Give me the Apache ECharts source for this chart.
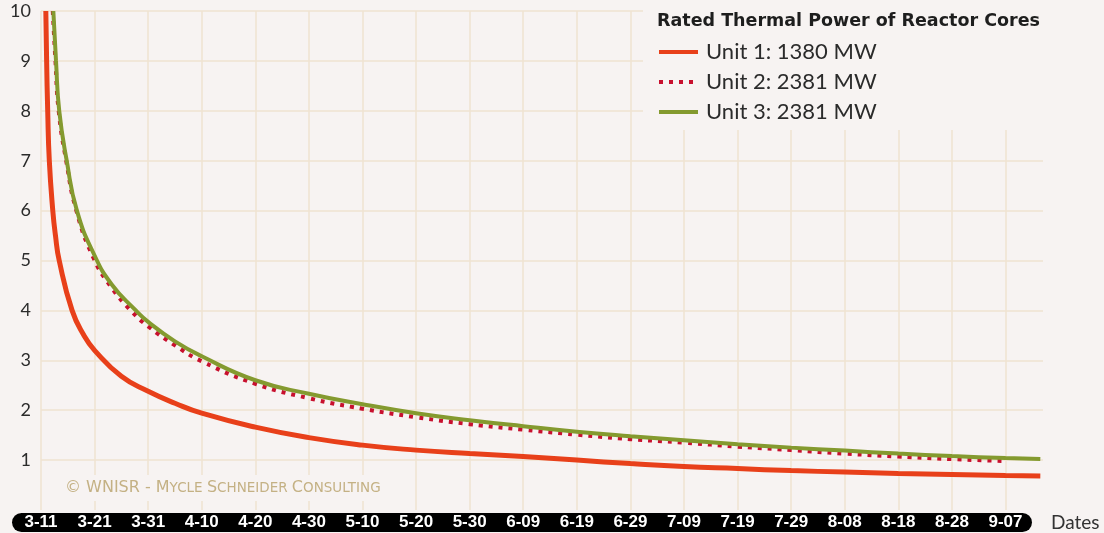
<!DOCTYPE html>
<html>
<head>
<meta charset="utf-8">
<script src="https://cdn.jsdelivr.net/npm/echarts@6/dist/echarts.min.js"></script>
<style>
  html, body { margin: 0; padding: 0; background: #f7f3f2; }
  #chart { width: 1104px; height: 533px; }
</style>
</head>
<body>
<div id="chart"></div>
<script>
// x = days after 3-11, y = decay heat (MW)
const dateLabels = ['3-11', '3-21', '3-31', '4-10', '4-20', '4-30', '5-10', '5-20', '5-30', '6-09',
  '6-19', '6-29', '7-09', '7-19', '7-29', '8-08', '8-18', '8-28', '9-07']

const unit1 = [
  [0.9, 10], [1.05, 9], [1.25, 8], [1.55, 7], [2.2, 6], [2.7, 5.5], [3.4, 5], [5.8, 4], [8, 3.5],
  [10, 3.2], [15, 2.68], [20, 2.38], [25, 2.14], [30, 1.94], [40, 1.66], [50, 1.45], [60, 1.3],
  [70, 1.2], [80, 1.13], [90, 1.07], [100, 1.0], [110, 0.93], [120, 0.87], [130, 0.83],
  [140, 0.79], [150, 0.76], [160, 0.73], [170, 0.71], [180, 0.69], [186.5, 0.68]
]
const unit2 = [
  [2.2, 10], [2.7, 9], [3.3, 8], [4.7, 7], [6.6, 6], [9.8, 5.05], [13, 4.48], [17, 3.97], [20, 3.68],
  [25, 3.3], [30, 2.98], [40, 2.53], [50, 2.24], [60, 2.03], [70, 1.86], [80, 1.72], [90, 1.61],
  [100, 1.51], [110, 1.42], [120, 1.35], [130, 1.27], [140, 1.2], [150, 1.13], [160, 1.07],
  [170, 1.02], [180, 0.98]
]
const unit3 = [
  [2.3, 10], [2.8, 9], [3.4, 8], [4.8, 7], [6.7, 6], [10, 5.1], [13.2, 4.52], [17.5, 4.02], [20, 3.77],
  [25, 3.38], [30, 3.08], [40, 2.6], [50, 2.33], [60, 2.12], [70, 1.94], [80, 1.8], [90, 1.68],
  [100, 1.57], [110, 1.48], [120, 1.4], [130, 1.32], [140, 1.25], [150, 1.19], [160, 1.13],
  [170, 1.08], [180, 1.04], [186.5, 1.02]
]
const seriesNames = ['Unit 1: 1380 MW', 'Unit 2: 2381 MW', 'Unit 3: 2381 MW']

const bg = '#f7f3f2'
const gridColor = '#efe3d0'
const chart = echarts.init(document.getElementById('chart'))

const option = {
  backgroundColor: bg,
  animation: false,
  title: {
    text: 'Rated Thermal Power of Reactor Cores',
    left: 652,
    top: 7,
    textStyle: { fontFamily: 'DejaVu Sans', fontWeight: 'bold', fontSize: 17.5, color: '#1e1e1e' }
  },
  legend: {
    orient: 'vertical',
    left: 657,
    top: 41,
    padding: 0,
    itemWidth: 39,
    itemHeight: 10,
    itemGap: 8,
    data: seriesNames,
    itemStyle: { opacity: 0 },
    lineStyle: { width: 4 },
    textStyle: { fontFamily: 'Lato', fontSize: 22, color: '#2b2b2b', lineHeight: 21, padding: [0, 0, 0, 3] }
  },
  grid: { left: 41, right: 61, top: 11, bottom: 23 },
  xAxis: {
    type: 'value',
    min: 0,
    max: 187,
    interval: 10,
    name: 'Dates',
    nameLocation: 'end',
    nameGap: 8,
    nameTextStyle: { fontFamily: 'Lato', fontSize: 19, color: '#333', verticalAlign: 'top', padding: [3, 0, 0, 0] },
    axisLine: { show: false },
    axisTick: { show: false },
    axisLabel: {
      showMaxLabel: false,
      margin: 4,
      color: '#fff',
      fontWeight: 'bold',
      fontSize: 17,
      fontFamily: 'Liberation Sans',
      formatter: v => dateLabels[v / 10] || ''
    },
    splitLine: { show: true, showMaxLine: false, lineStyle: { color: gridColor, width: 1.5 } }
  },
  yAxis: {
    type: 'value',
    min: 0,
    max: 10,
    interval: 1,
    axisLine: { show: false },
    axisTick: { show: false },
    axisLabel: { showMinLabel: false, margin: 10, color: '#2b2b2b', fontSize: 18, fontFamily: 'Lato' },
    splitLine: { showMinLine: false, lineStyle: { color: gridColor, width: 1.5 } }
  },
  graphic: [
    // black band behind date labels
    { type: 'rect', z: -1, shape: { x: 12, y: 513, width: 1020, height: 19, r: 9.5 }, style: { fill: '#000' } },
    // legend area hides the grid
    { type: 'rect', z: 1, shape: { x: 643, y: 0, width: 400, height: 130 }, style: { fill: bg } },
    {
      type: 'text', z: 1, left: 55, top: 475,
      style: {
        text: '{a|© WNISR - M}{b|YCLE }{a|S}{b|CHNEIDER }{a|C}{b|ONSULTING}',
        backgroundColor: bg,
        padding: [5, 10],
        rich: {
          a: { fontSize: 16, fontFamily: 'DejaVu Sans', fill: '#c4b184', lineHeight: 16 },
          b: { fontSize: 13.5, fontFamily: 'DejaVu Sans', fill: '#c4b184', lineHeight: 16 }
        }
      }
    }
  ],
  series: [
    {
      name: seriesNames[0], type: 'line', data: unit1, showSymbol: false, symbol: 'none',
      smooth: 0.5, z: 3,
      lineStyle: { color: '#e8401a', width: 5 }, itemStyle: { color: '#e8401a' }
    },
    {
      name: seriesNames[1], type: 'line', data: unit2, showSymbol: false, symbol: 'none',
      smooth: 0.5, z: 3,
      lineStyle: { color: '#c8102e', width: 4, type: [4, 6] }, itemStyle: { color: '#c8102e' }
    },
    {
      name: seriesNames[2], type: 'line', data: unit3, showSymbol: false, symbol: 'none',
      smooth: 0.5, z: 4,
      lineStyle: { color: '#849a2f', width: 4 }, itemStyle: { color: '#849a2f' }
    }
  ]
}
chart.setOption(option)
</script>
</body>
</html>
